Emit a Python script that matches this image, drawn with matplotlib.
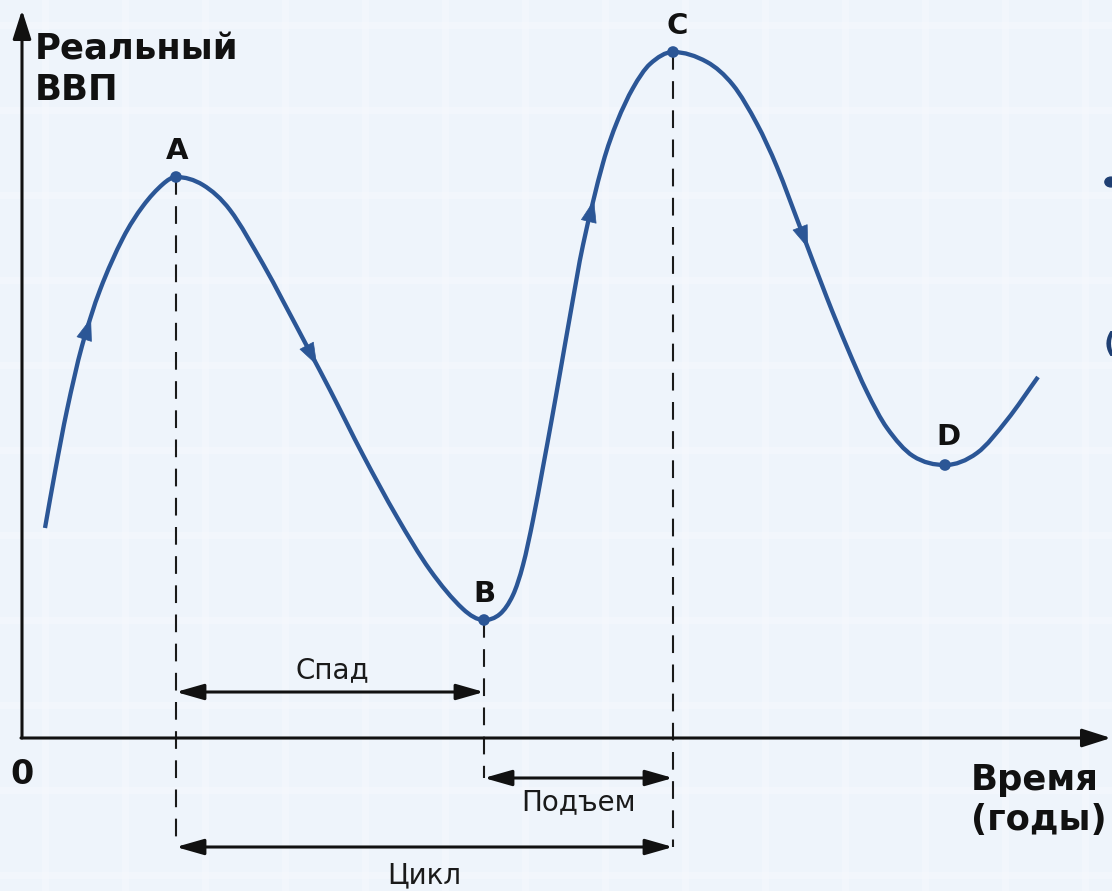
import numpy as np
import matplotlib
matplotlib.use("Agg")
import matplotlib.pyplot as plt
from matplotlib.path import Path
from matplotlib.patches import PathPatch

# ---- data (picture pixels, origin of the axes at px=(22, 738)) ----
ORIGIN_X, ORIGIN_Y = 22, 738
curve_px = [45, 55, 67, 82, 100, 123, 143, 163, 176,
            203, 230, 263, 283, 310, 330, 363, 397, 430, 463, 484,
            500, 513, 523, 533, 543, 552, 560, 570, 583, 603, 617, 633, 650, 673,
            707, 733, 757, 777, 800, 827, 847, 867, 887, 913, 945,
            977, 1007, 1038]
curve_py = [528, 472, 410, 346, 290, 238, 206, 184, 177,
            185, 210, 264, 301, 352, 390, 455, 517, 570, 609, 620,
            614, 595, 565, 520, 467, 418, 373, 316, 245, 163, 122, 88, 64, 52,
            62, 85, 124, 167, 227, 298, 347, 392, 428, 456, 465,
            453, 420, 377]
point_names = ["A", "B", "C", "D"]
point_idx = [8, 19, 33, 44]
arrow_px = [91, 317, 594, 808]

phase_labels = ["Спад", "Подъем", "Цикл"]
phase_from = ["A", "B", "A"]
phase_to = ["B", "C", "C"]
phase_py = [692, 778, 847]

y_label = "Реальный\nВВП"
x_label = "Время\n(годы)"

# convert to time / GDP units
t = np.array(curve_px, float) - ORIGIN_X
g = ORIGIN_Y - np.array(curve_py, float)

BLUE = "#2b5696"
BG = "#eef4fb"

fig = plt.figure(figsize=(11.12, 8.91), dpi=100)
fig.patch.set_facecolor(BG)
ax = fig.add_axes([0, 0, 1, 1])
ax.set_xlim(-ORIGIN_X, 1112 - ORIGIN_X)
ax.set_ylim(ORIGIN_Y - 891, ORIGIN_Y)
ax.axis("off")
ax.set_facecolor(BG)

# subtle background grid
for gx in range(45, 1112, 80):
    ax.axvline(gx - ORIGIN_X, color="#f6f9fd", lw=5, alpha=0.6, zorder=0)
for gy in range(25, 891, 85):
    ax.axhline(ORIGIN_Y - gy, color="#f6f9fd", lw=5, alpha=0.6, zorder=0)

# smooth curve through the points: cubic Hermite in t, drawn as Bezier segments
n = len(t)
m = np.zeros(n)
for i in range(n):
    if i == 0:
        m[i] = (g[1] - g[0]) / (t[1] - t[0])
    elif i == n - 1:
        m[i] = (g[-1] - g[-2]) / (t[-1] - t[-2])
    else:
        m[i] = (g[i + 1] - g[i - 1]) / (t[i + 1] - t[i - 1])
for i in point_idx:
    m[i] = 0.0
verts = [(t[0], g[0])]
codes = [Path.MOVETO]
for i in range(n - 1):
    h = t[i + 1] - t[i]
    verts += [(t[i] + h / 3, g[i] + m[i] * h / 3),
              (t[i + 1] - h / 3, g[i + 1] - m[i + 1] * h / 3),
              (t[i + 1], g[i + 1])]
    codes += [Path.CURVE4] * 3
ax.add_patch(PathPatch(Path(verts, codes), fill=False, edgecolor=BLUE, lw=3.1,
                       capstyle="butt", joinstyle="round", zorder=5))

# direction arrows on the curve
for a_px in arrow_px:
    xt = a_px - ORIGIN_X
    yt = np.interp(xt, t, g)
    xs = xt - 4
    ys = np.interp(xs, t, g)
    ax.annotate("", xy=(xt, yt), xytext=(xs, ys),
                arrowprops=dict(arrowstyle="-|>,head_length=0.95,head_width=0.34",
                                mutation_scale=16, color=BLUE, lw=0.5,
                                shrinkA=0, shrinkB=0), zorder=6)

# key points
pts = {nm: (t[i], g[i]) for nm, i in zip(point_names, point_idx)}
ax.scatter([pts[nm][0] for nm in point_names], [pts[nm][1] for nm in point_names],
           s=70, color=BLUE, zorder=7, edgecolors="none")
label_off = {"A": (1, 26), "B": (0, 26), "C": (4, 26), "D": (3, 28)}
for nm in point_names:
    x0, y0 = pts[nm]
    dx, dy = label_off[nm]
    ax.text(x0 + dx, y0 + dy, nm, fontsize=21, fontweight="bold", ha="center",
            va="center", color="#111111", family="DejaVu Sans", zorder=8)

# dashed verticals
low = {"A": ORIGIN_Y - 847, "B": ORIGIN_Y - 778, "C": ORIGIN_Y - 847}
for nm in ["A", "B", "C"]:
    x0, y0 = pts[nm]
    ax.plot([x0, x0], [y0, low[nm]], color="#1a1a1a", lw=1.5,
            dashes=(8.5, 5.5), zorder=3)

# axes with arrows
ax.annotate("", xy=(0, ORIGIN_Y - 10), xytext=(0, 0),
            arrowprops=dict(arrowstyle="-|>,head_length=1.1,head_width=0.35",
                            mutation_scale=16, color="#111111", lw=2.2,
                            shrinkA=0, shrinkB=0), zorder=4)
ax.annotate("", xy=(1111 - ORIGIN_X, 0), xytext=(-1, 0),
            arrowprops=dict(arrowstyle="-|>,head_length=1.1,head_width=0.35",
                            mutation_scale=16, color="#111111", lw=2.2,
                            shrinkA=0, shrinkB=0), zorder=4)

# phase arrows
label_dy = {"Спад": 22, "Подъем": -24, "Цикл": -28}
for lab, a, b, py in zip(phase_labels, phase_from, phase_to, phase_py):
    yy = ORIGIN_Y - py
    xa, xb = pts[a][0], pts[b][0]
    ax.annotate("", xy=(xb, yy), xytext=(xa, yy),
                arrowprops=dict(arrowstyle="<|-|>,head_length=1.05,head_width=0.3",
                                mutation_scale=16, color="#111111", lw=2.2,
                                shrinkA=0, shrinkB=0), zorder=4)
    ax.text((xa + xb) / 2 + (2 if lab == "Спад" else 0), yy + label_dy[lab], lab,
            fontsize=20, ha="center", va="center", color="#1a1a1a",
            family="DejaVu Sans", zorder=8)

# axis labels
ax.text(13, ORIGIN_Y - 70, y_label, fontsize=25.5, fontweight="bold", ha="left",
        va="center", color="#111111", family="DejaVu Sans", linespacing=1.25)
ax.text(0, -36, "0", fontsize=24, fontweight="bold", ha="center", va="center",
        color="#111111", family="DejaVu Sans")
ax.text(949, -62, x_label, fontsize=25.5, fontweight="bold", ha="left",
        va="center", color="#111111", family="DejaVu Sans", linespacing=1.25)

# fragments of neighbouring content at the right edge
fig.patches.append(matplotlib.patches.Circle((1111 / 1112, 1 - 182 / 891), 0.0055,
                                             transform=fig.transFigure,
                                             color="#1f3f73", zorder=9))
fig.text(1104 / 1112, 1 - 345 / 891, "(", fontsize=20, color="#1f3f73",
         ha="left", va="center", fontweight="bold")

fig.savefig("out.png", dpi=100, facecolor=BG)
